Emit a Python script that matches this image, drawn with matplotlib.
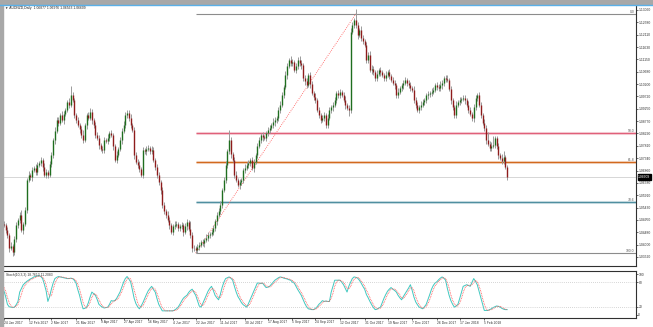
# AUDNZD daily chart with fibonacci levels and stochastic
import numpy as np
import matplotlib.pyplot as plt
from matplotlib.transforms import blended_transform_factory
from matplotlib.patches import Rectangle

plt.rcParams['font.family'] = ['Liberation Sans', 'DejaVu Sans']

# ---- data ----
title = "AUDNZD,Daily  1.06877 1.06976 1.06563 1.06609"
stoch_title = "Stoch(10,3,3) 18.7613 11.2083"

first_open = 480  # pips above 1.0000
# daily closes, pips above 1.0000
closes = [476, 455, 437, 387, 395, 371, 420, 476, 495, 514, 456, 480, 534,
          649, 669, 660, 688, 696, 680, 707, 715,
          727, 700, 669, 680, 669, 710, 746, 804, 840, 881,
          870, 900, 881, 905, 920, 950, 940, 977, 958, 900,
          880, 862, 845, 823, 804, 860, 900, 890, 912, 880,
          862, 823, 810, 784, 770, 765, 804, 800, 811, 830,
          823, 780, 727, 746, 770, 804, 840, 862, 900, 910,
          889, 860, 843, 746, 720, 707, 690, 669, 765, 760,
          770, 773, 760, 765, 727, 700, 669, 640, 611, 553,
          530, 514, 495, 476, 449, 470, 476, 480, 464, 470,
          476, 449, 470, 487, 460, 437, 387, 385, 379, 390,
          398, 410, 405, 418, 425, 437, 440, 449, 464, 490,
          514, 530, 553, 611, 650, 707, 760, 804, 750, 727,
          669, 650, 630, 640, 649, 688, 695, 707, 715, 727,
          696, 720, 746, 780, 804, 823, 815, 811, 830, 843,
          850, 862, 873, 880, 889, 920, 939, 977, 1010, 1055,
          1090, 1113, 1100, 1105, 1074, 1090, 1113, 1100, 1094, 1043,
          1030, 1016, 1055, 1020, 986, 970, 958, 920, 900, 881,
          890, 900, 862, 890, 920, 930, 939, 960, 986, 977,
          990, 977, 960, 939, 928, 920, 1221, 1248, 1267, 1248,
          1209, 1229, 1198, 1185, 1171, 1113, 1132, 1074, 1080, 1066,
          1043, 1060, 1074, 1065, 1055, 1043, 1055, 1066, 1050, 1036,
          1025, 1016, 977, 990, 1004, 1015, 1024, 1036, 1025, 1016,
          1005, 997, 958, 940, 920, 930, 939, 950, 958, 977,
          980, 986, 990, 997, 1016, 1010, 1004, 1015, 1024, 1043,
          1040, 1036, 1000, 958, 930, 900, 939, 950, 958, 962,
          966, 958, 940, 920, 905, 889, 930, 966, 977, 940,
          900, 870, 850, 804, 790, 773, 780, 784, 811, 780,
          746, 735, 723, 738, 700, 661]
# wick lengths above / below the body, pips
up_wick = [10, 8, 12, 6, 15, 9, 14, 10, 8, 12, 20, 9, 11,
           10, 14, 8, 12, 9, 15, 10, 8,
           12, 9, 14, 10, 8, 12, 10, 9, 15, 11,
           10, 8, 14, 12, 9, 10, 15, 35, 12, 9,
           10, 14, 8, 12, 20, 10, 9, 12, 15, 10,
           8, 12, 10, 14, 9, 10, 12, 8, 15, 10,
           12, 9, 10, 14, 8, 12, 10, 16, 12, 9,
           10, 14, 8, 12, 10, 9, 15, 10, 12, 8,
           10, 12, 9, 14, 10, 8, 12, 10, 9, 12,
           10, 8, 14, 12, 9, 10, 15, 12, 8, 10,
           12, 9, 14, 10, 8, 30, 12, 10, 9, 12,
           10, 8, 12, 9, 14, 10, 8, 12, 10, 9,
           12, 10, 14, 9, 12, 15, 10, 40, 12, 9,
           10, 14, 8, 12, 10, 9, 15, 10, 12, 8,
           10, 12, 9, 14, 10, 8, 12, 10, 9, 12,
           10, 8, 14, 12, 9, 10, 15, 12, 8, 14,
           12, 9, 14, 10, 8, 12, 10, 16, 12, 9,
           10, 14, 8, 12, 10, 9, 15, 10, 12, 8,
           10, 12, 9, 14, 10, 8, 12, 10, 9, 12,
           10, 8, 14, 12, 9, 10, 15, 12, 10, 42,
           12, 9, 14, 10, 8, 12, 10, 16, 12, 9,
           10, 14, 8, 12, 10, 9, 15, 10, 12, 8,
           10, 12, 9, 14, 10, 8, 12, 10, 9, 12,
           10, 8, 14, 12, 9, 10, 15, 12, 8, 10,
           12, 9, 14, 10, 8, 12, 10, 16, 12, 9,
           10, 14, 8, 12, 10, 9, 15, 10, 12, 8,
           10, 12, 9, 14, 10, 8, 12, 10, 9, 12,
           10, 8, 14, 12, 30, 10, 15, 35, 8, 10,
           12, 9, 14, 25, 8, 6]
dn_wick = [9, 12, 10, 15, 8, 14, 10, 9, 12, 10, 8, 14, 10,
           12, 8, 10, 14, 9, 12, 10, 8,
           10, 14, 9, 12, 10, 8, 12, 10, 14, 9,
           12, 10, 8, 14, 10, 9, 12, 10, 8, 12,
           10, 9, 14, 12, 10, 8, 12, 10, 9, 14,
           12, 10, 8, 14, 9, 12, 10, 8, 12, 10,
           9, 14, 10, 12, 8, 10, 14, 9, 12, 10,
           12, 8, 10, 14, 9, 12, 10, 8, 12, 10,
           14, 9, 12, 10, 8, 12, 10, 9, 14, 10,
           12, 10, 8, 14, 9, 12, 10, 8, 12, 10,
           9, 14, 10, 12, 8, 10, 14, 9, 12, 10,
           12, 8, 10, 14, 9, 12, 10, 8, 12, 10,
           14, 9, 12, 10, 8, 12, 10, 9, 14, 10,
           12, 10, 8, 14, 9, 12, 10, 8, 12, 10,
           9, 14, 10, 12, 8, 10, 14, 9, 12, 10,
           12, 8, 10, 14, 9, 12, 10, 8, 12, 10,
           14, 9, 12, 10, 8, 12, 10, 9, 14, 10,
           12, 10, 8, 14, 9, 12, 10, 8, 12, 10,
           9, 14, 10, 12, 8, 10, 14, 9, 12, 10,
           12, 8, 10, 14, 9, 25, 10, 8, 12, 10,
           14, 9, 12, 10, 8, 12, 10, 9, 14, 10,
           12, 10, 8, 14, 9, 12, 10, 8, 12, 10,
           9, 14, 10, 12, 8, 10, 14, 9, 12, 10,
           12, 8, 10, 14, 9, 12, 10, 8, 12, 10,
           14, 9, 12, 10, 8, 12, 10, 9, 14, 10,
           12, 10, 8, 14, 9, 12, 10, 8, 12, 10,
           9, 14, 10, 12, 8, 10, 14, 9, 12, 10,
           12, 8, 10, 14, 9, 12, 10, 8, 12, 10,
           14, 9, 12, 10, 8, 10]

stoch_main = [59, 45, 26, 20, 19, 18, 19, 25, 33, 56,
              65, 74, 78, 82, 85, 88, 90, 93, 94, 95,
              96, 94, 89, 75, 59, 33, 45, 63, 78, 89,
              92, 94, 93, 92, 91, 90, 89, 89, 90, 89,
              85, 78, 62, 48, 30, 15, 16, 19, 30, 44,
              56, 52, 48, 38, 26, 22, 19, 17, 18, 19,
              26, 35, 34, 35, 40, 48, 56, 68, 80, 89,
              94, 88, 81, 62, 41, 28, 20, 15, 22, 30,
              40, 50, 59, 65, 70, 62, 56, 40, 26, 18,
              10, 10, 10, 10, 10, 10, 10, 12, 15, 19,
              26, 34, 41, 45, 48, 55, 60, 63, 55, 48,
              35, 22, 19, 28, 38, 48, 58, 65, 70, 60,
              48, 42, 37, 50, 67, 80, 89, 91, 93, 90,
              85, 70, 56, 45, 38, 30, 25, 22, 19, 28,
              38, 48, 58, 68, 78, 78, 77, 78, 72, 67,
              68, 70, 75, 80, 85, 88, 91, 93, 92, 90,
              89, 88, 86, 85, 80, 78, 70, 62, 55, 48,
              38, 28, 20, 15, 14, 13, 13, 16, 20, 26,
              30, 35, 33, 34, 33, 33, 56, 70, 85, 85,
              85, 85, 80, 74, 65, 56, 70, 80, 89, 93,
              92, 90, 85, 78, 70, 63, 50, 42, 33, 25,
              18, 13, 14, 17, 19, 30, 41, 50, 58, 63,
              67, 63, 60, 56, 48, 42, 37, 45, 52, 59,
              66, 74, 60, 44, 32, 25, 19, 17, 15, 20,
              26, 38, 50, 63, 72, 78, 81, 86, 90, 93,
              90, 85, 65, 48, 35, 26, 19, 22, 26, 40,
              55, 70, 72, 74, 72, 70, 80, 89, 82, 74,
              58, 41, 25, 11, 11, 11, 13, 15, 18, 20,
              22, 21, 19, 16, 14, 13, 13]
stoch_signal = [68, 58, 43, 30, 22, 19, 19, 21, 26, 38,
                51, 65, 72, 78, 82, 85, 88, 90, 92, 94,
                95, 95, 93, 86, 74, 56, 46, 47, 62, 77,
                86, 92, 93, 93, 92, 91, 90, 89, 89, 89,
                88, 84, 75, 63, 47, 31, 20, 17, 22, 31,
                43, 51, 52, 46, 37, 29, 22, 19, 18, 18,
                21, 27, 32, 35, 36, 41, 48, 57, 68, 79,
                88, 90, 88, 77, 61, 44, 30, 21, 19, 22,
                31, 40, 50, 58, 65, 66, 63, 53, 41, 28,
                18, 13, 10, 10, 10, 10, 10, 11, 12, 15,
                20, 26, 34, 40, 45, 49, 54, 59, 59, 55,
                46, 35, 25, 23, 28, 38, 48, 57, 64, 65,
                59, 50, 42, 43, 51, 66, 79, 87, 91, 91,
                89, 82, 70, 57, 46, 38, 31, 26, 22, 23,
                28, 38, 48, 58, 68, 75, 78, 78, 76, 72,
                69, 68, 71, 75, 80, 84, 88, 91, 92, 92,
                90, 89, 88, 86, 84, 81, 76, 70, 62, 55,
                47, 38, 29, 21, 16, 14, 13, 14, 16, 21,
                25, 30, 33, 34, 33, 33, 41, 53, 70, 80,
                85, 85, 83, 80, 73, 65, 64, 69, 80, 87,
                91, 92, 89, 84, 78, 70, 61, 52, 42, 33,
                25, 19, 15, 15, 17, 22, 30, 40, 50, 57,
                63, 64, 63, 60, 55, 49, 42, 41, 45, 52,
                59, 66, 67, 59, 45, 34, 25, 20, 17, 17,
                20, 28, 38, 50, 62, 71, 77, 82, 86, 90,
                91, 89, 80, 66, 49, 36, 27, 22, 22, 29,
                40, 55, 66, 72, 73, 72, 74, 80, 84, 82,
                71, 58, 41, 26, 16, 11, 12, 13, 15, 18,
                20, 21, 21, 19, 16, 14, 13]

price_ticks = [1.13060, 1.12580, 1.12110, 1.11630, 1.11150, 1.10680, 1.10200,
               1.09720, 1.09250, 1.08770, 1.08290, 1.07810, 1.07340, 1.06860,
               1.06380, 1.05910, 1.05430, 1.04950, 1.04480, 1.04000, 1.03520]
date_idx = [0, 14, 27, 41, 55, 68, 82, 96, 109, 123, 137, 150, 164, 177,
            191, 205, 218, 232, 246, 259, 273]
date_labels = ["24 Jan 2017", "12 Feb 2017", "2 Mar 2017", "21 Mar 2017",
               "9 Apr 2017", "27 Apr 2017", "16 May 2017", "4 Jun 2017",
               "22 Jun 2017", "11 Jul 2017", "30 Jul 2017", "17 Aug 2017",
               "5 Sep 2017", "24 Sep 2017", "12 Oct 2017", "31 Oct 2017",
               "19 Nov 2017", "7 Dec 2017", "26 Dec 2017", "17 Jan 2018",
               "5 Feb 2018"]

# fibonacci tool anchors (bar index, price)
swing_low = (109, 1.0367)
swing_high = (200, 1.1291)
fib_levels = [0.0, 50.0, 61.8, 78.6, 100.0]
fib_colors = ['#8c8c8c', '#e0607a', '#d2691e', '#4f8fa0', '#8c8c8c']
last_price = 1.06609

# ---- figure ----
W, H = 653, 327
FS = 2.4
fig = plt.figure(figsize=(W / 100, H / 100), dpi=100)

def px_axes(l, t, r, b):
    return fig.add_axes([l / W, 1 - b / H, (r - l) / W, (b - t) / H])

ax = px_axes(3, 5, 636, 266)
ax2 = px_axes(3, 271, 636, 318)
xmin, xmax = -0.5, 359.2

# window frame bits
fig.patches.append(Rectangle((0, 0), 3 / W, 1, transform=fig.transFigure, color='#a8a8a8', zorder=0))
fig.patches.append(Rectangle((0, 1 - 4 / H), 1, 4 / H, transform=fig.transFigure, color='#a8a8a8', zorder=0))
fig.lines.append(plt.Line2D([0, 1], [1 - 4.5 / H] * 2, transform=fig.transFigure, color='#5ab0e8', lw=1))

# candles
x = np.arange(len(closes))
c = 1 + np.array(closes) / 1e4
o = np.r_[1 + first_open / 1e4, c[:-1]]  # daily open = prior close
hi = np.maximum(o, c) + np.array(up_wick) / 1e4
lo = np.minimum(o, c) - np.array(dn_wick) / 1e4
ax.vlines(x, lo, hi, color='#9a9a9a', lw=0.7, zorder=3)
bull = c >= o
ax.vlines(x[bull], o[bull], c[bull], color='#1f6e1f', lw=1.0, zorder=4)
ax.vlines(x[~bull], c[~bull], o[~bull], color='#8e1c1c', lw=1.0, zorder=4)

# current price line
ax.axhline(last_price, color='#d0d0d0', lw=0.6, zorder=1)

# fibonacci retracement
rng = swing_high[1] - swing_low[1]
for lev, col in zip(fib_levels, fib_colors):
    p = swing_high[1] - rng * lev / 100
    if lev in (50.0, 61.8, 78.6):
        ax.hlines(p, swing_low[0], xmax, color=col, lw=2.2, alpha=0.3, zorder=2)
    ax.hlines(p, swing_low[0], xmax, color=col, lw=0.8, zorder=2)
    ax.text(xmax - 1, p, f"{lev:.1f}", ha='right', va='bottom', fontsize=FS, color='#555555')
ax.plot([swing_low[0], swing_high[0]], [swing_low[1], swing_high[1]],
        color='#ff5050', lw=0.6, ls=(0, (1, 1.5)), zorder=2)

ax.set_xlim(xmin, xmax)
ax.set_ylim(1.03172, 1.13253)
ax.yaxis.tick_right()
ax.set_yticks(price_ticks, [f"{t:.5f}" for t in price_ticks])
ax.set_xticks([])
ax.tick_params(axis='y', labelsize=FS, length=1.2, pad=0.5, width=0.5, colors='#333333')
for s in ax.spines.values():
    s.set_linewidth(0.8)
    s.set_color('#303030')
ax.spines['left'].set_visible(False)
ax.spines['top'].set_visible(False)

trans = blended_transform_factory(ax.transAxes, ax.transData)
ax.text(1.0035, last_price, f"{last_price:.5f}", transform=trans, ha='left', va='center',
        fontsize=FS, color='white', bbox=dict(fc='black', ec='black', pad=0.4))
fig.text(5 / W, 1 - 9 / H, "\u25bc " + title, fontsize=FS, color='#222222')

# stochastic
ax2.plot(x, stoch_main, color='#40c8c0', lw=0.7)
ax2.plot(x, stoch_signal, color='#ff5050', lw=0.6, ls=(0, (1, 1)))
for lv in (20, 80):
    ax2.axhline(lv, color='#b0b0b0', lw=0.5, ls=(0, (1, 2)))
ax2.set_xlim(xmin, xmax)
ax2.set_ylim(-7.5, 107.5)
ax2.yaxis.tick_right()
ax2.set_yticks([100, 80, 20, 0])
ax2.set_xticks(date_idx, date_labels)
ax2.tick_params(axis='y', labelsize=FS, length=1.2, pad=0.5, width=0.5, colors='#333333')
ax2.tick_params(axis='x', labelsize=FS, length=1.2, pad=0.6, width=0.5, colors='#333333')
for lab in ax2.get_xticklabels():
    lab.set_horizontalalignment('left')
for s in ax2.spines.values():
    s.set_linewidth(0.8)
    s.set_color('#303030')
ax2.spines['left'].set_visible(False)
ax2.text(0.004, 0.95, stoch_title, transform=ax2.transAxes, fontsize=FS, color='#333333', va='top')

fig.savefig('out.png', dpi=100)
